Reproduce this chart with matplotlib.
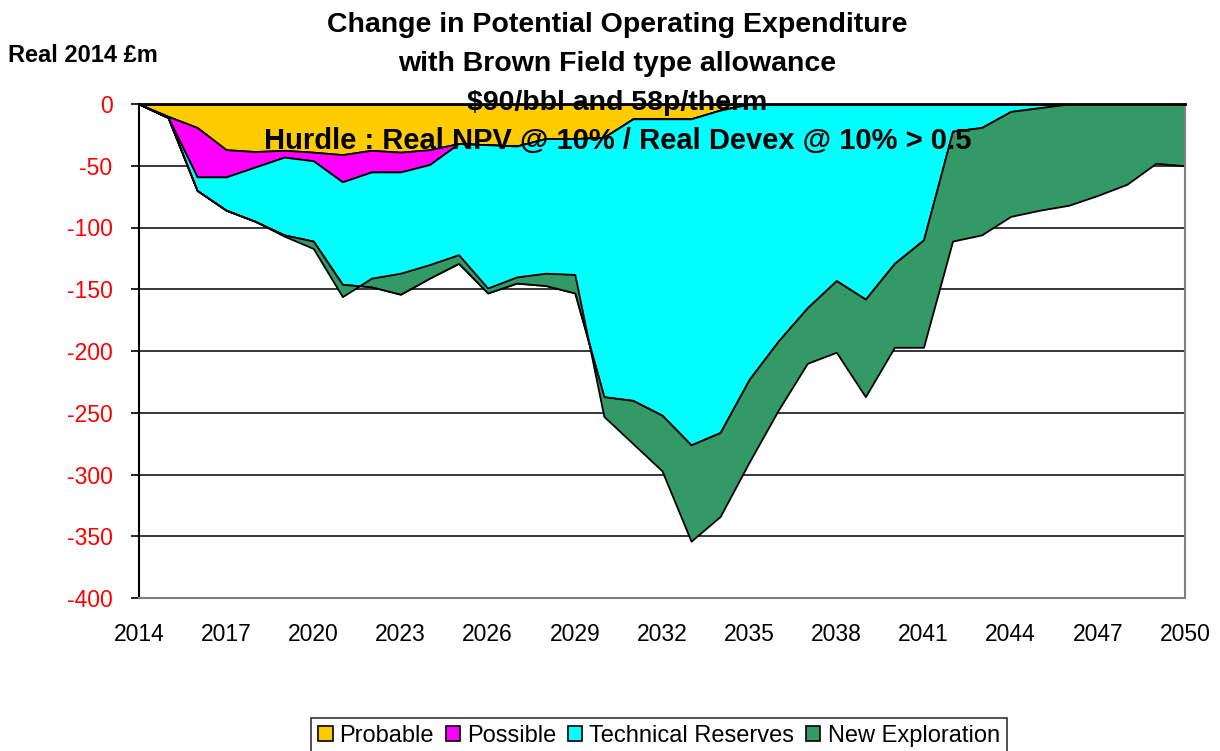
import numpy as np
import matplotlib
matplotlib.use("Agg")
import matplotlib.pyplot as plt
from matplotlib.patches import Patch

plt.rcParams['font.family'] = ['Liberation Sans', 'DejaVu Sans']

years = np.arange(2014, 2051)
series_names = ["Probable", "Possible", "Technical Reserves", "New Exploration"]
series_colors = ["#FFCC00", "#FF00FF", "#00FFFF", "#339966"]

probable = [0, -10, -19, -37, -38.5, -37.5, -39, -41, -37.5, -39, -37, -32, -33, -34,
            -28, -28, -27, -12, -12, -12, -5, 0, 0, 0, 0, 0, 0, 0, 0, 0, 0, 0, 0, 0, 0, 0, 0]
possible = [0, -1, -40, -22, -12.5, -5.5, -7, -22, -17.5, -16, -12, 0, 0, 0,
            0, 0, 0, 0, 0, 0, 0, 0, 0, 0, 0, 0, 0, 0, 0, 0, 0, 0, 0, 0, 0, 0, 0]
technical = [0, 0, -11, -27, -44, -63, -65, -83, -93, -99, -92, -97, -120, -111,
             -119, -125, -210, -228, -240, -264, -261, -223, -192, -165, -143, -158, -129, -110,
             -22, -19, -6, -3, 0, 0, 0, 0, 0]
new_exploration = [0, 0, 0, 0, 0, -1, -6, -10, 7, 17, 11, 7, 4, 5,
                   10, 15, -16, -35, -45, -78, -68, -67, -56, -45, -58, -79, -68, -87,
                   -89, -87, -85, -83, -82, -74, -65, -48, -50]

yticks = list(range(-400, 1, 50))
xticks_major = list(range(2014, 2051, 3))

title_lines = ["Change in Potential Operating Expenditure",
               "with Brown Field type allowance",
               "$90/bbl and 58p/therm"]
hurdle_text = "Hurdle : Real NPV @ 10% / Real Devex @ 10% > 0.5"
ylabel_text = "Real 2014 £m"

fig = plt.figure(figsize=(12.2, 7.51), dpi=100)
ax = fig.add_axes([139/1220, 1-598/751, (1185-139)/1220, (598-104)/751])

# gridlines
for yv in yticks[1:-1]:
    ax.axhline(yv, color="black", lw=1.1, zorder=0.5)

data = [probable, possible, technical, new_exploration]
prev = np.zeros(len(years))
for vals, col in zip(data, series_colors):
    cum = prev + np.array(vals, dtype=float)
    ax.fill_between(years, prev, cum, facecolor=col, edgecolor="black", lw=1.3, zorder=2)
    prev = cum

ax.set_xlim(2014, 2050)
ax.set_ylim(-400, 0)
ax.set_yticks(yticks)
ax.set_yticklabels([str(v) for v in yticks], color="red", fontsize=16.5)
ax.set_xticks(xticks_major)
ax.set_xticklabels([str(v) for v in xticks_major], fontsize=16.5)
ax.set_xticks(list(range(2014, 2051)), minor=True)

ax.tick_params(axis='y', which='both', direction='out', length=6, width=1.2, pad=13, left=True, right=False)
ax.tick_params(axis='x', which='both', bottom=False, top=True, labelbottom=True, labeltop=False,
               direction='in', length=7, width=1.2, pad=18)

ax.spines['top'].set_color('black')
ax.spines['top'].set_linewidth(2)
ax.spines['top'].set_zorder(5)
ax.spines['left'].set_color('black')
ax.spines['left'].set_linewidth(1.5)
ax.spines['bottom'].set_color('#808080')
ax.spines['bottom'].set_linewidth(1.5)
ax.spines['right'].set_color('#808080')
ax.spines['right'].set_linewidth(1.5)

# titles
ty = [25, 64, 103]
for line, yy in zip(title_lines, ty):
    fig.text(0.506, 1-yy/751, line, ha="center", va="center", fontsize=20.5, fontweight="bold", zorder=10)
fig.text(0.506, 1-141/751, hurdle_text, ha="center", va="center", fontsize=21, fontweight="bold", zorder=10)
fig.text(8/1220, 1-56/751, ylabel_text, ha="left", va="center", fontsize=17, fontweight="bold")

handles = [Patch(facecolor=c, edgecolor="black", lw=1.2) for c in series_colors]
leg = fig.legend(handles, series_names, loc="center", bbox_to_anchor=(659/1220, 1-736/751),
                 ncol=4, fontsize=17, frameon=True, fancybox=False, edgecolor="black",
                 handlelength=0.6, handleheight=0.6, handletextpad=0.3, columnspacing=0.5,
                 borderpad=0.3, borderaxespad=0)
leg.get_frame().set_linewidth(1.2)

fig.savefig("out.png", dpi=100)
